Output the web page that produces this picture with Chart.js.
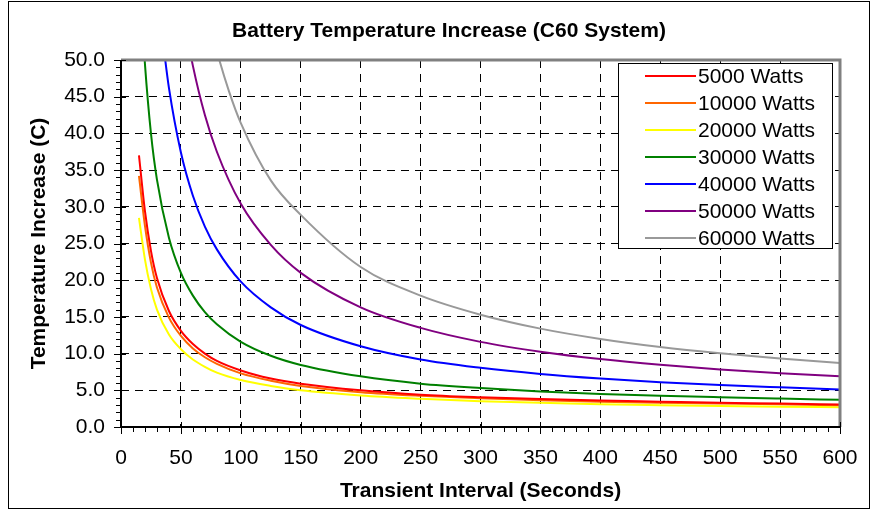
<!DOCTYPE html>
<html>
<head>
<meta charset="utf-8">
<script src="https://cdn.jsdelivr.net/npm/chart.js@4.4.0/dist/chart.umd.min.js"></script>
<style>
  body { margin: 0; background: #fff; }
  #wrap { position: relative; width: 880px; height: 510px; }
</style>
</head>
<body>
<div id="wrap"><canvas id="myChart" width="880" height="510"></canvas></div>
<script>
// transient interval (seconds) and temperature increase (C)
const t5000  = [15, 20, 25, 30, 40, 50, 60, 70, 80, 100, 125, 150, 200, 250, 300, 350, 400, 450, 500, 550, 600];
const v5000  = [37.0, 29.4, 24.0, 20.3, 15.8, 13.1, 11.3, 10.0, 9.0, 7.7, 6.6, 5.9, 5.0, 4.4, 4.05, 3.8, 3.6, 3.45, 3.3, 3.2, 3.05];
const t10000 = [15, 20, 25, 30, 40, 50, 60, 70, 80, 100, 125, 150, 200, 250, 300, 350, 400, 450, 500, 550, 600];
const v10000 = [34.2, 27.4, 22.4, 19.0, 14.9, 12.4, 10.7, 9.5, 8.6, 7.3, 6.3, 5.6, 4.75, 4.25, 3.9, 3.65, 3.45, 3.3, 3.2, 3.1, 2.95];
const t20000 = [15, 20, 25, 30, 40, 50, 60, 70, 80, 100, 125, 150, 200, 250, 300, 350, 400, 450, 500, 550, 600];
const v20000 = [28.5, 22.8, 18.8, 16.0, 12.6, 10.6, 9.2, 8.2, 7.4, 6.4, 5.6, 5.0, 4.3, 3.85, 3.5, 3.3, 3.1, 2.97, 2.86, 2.77, 2.7];
const t30000 = [19, 20, 25, 30, 40, 50, 60, 70, 80, 100, 125, 150, 200, 250, 300, 350, 400, 450, 500, 550, 600];
const v30000 = [52.0, 49.4, 40.0, 33.7, 25.8, 21.0, 17.9, 15.65, 14.0, 11.6, 9.7, 8.45, 6.9, 5.9, 5.3, 4.85, 4.5, 4.25, 4.05, 3.87, 3.7];
const t40000 = [35, 40, 50, 60, 70, 80, 100, 125, 150, 200, 250, 300, 350, 400, 450, 500, 550, 600];
const v40000 = [52.5, 46.2, 37.4, 31.5, 27.3, 24.2, 19.8, 16.3, 13.9, 11.0, 9.2, 8.07, 7.23, 6.6, 6.1, 5.72, 5.4, 5.1];
const t50000 = [55, 60, 70, 80, 100, 125, 150, 200, 250, 300, 350, 400, 450, 500, 550, 600];
const v50000 = [53.5, 49.2, 42.5, 37.5, 30.4, 24.8, 21.0, 16.3, 13.5, 11.6, 10.26, 9.25, 8.47, 7.84, 7.33, 6.9];
const t60000 = [78, 80, 90, 100, 125, 150, 200, 250, 300, 350, 400, 450, 500, 550, 600];
const v60000 = [52.5, 51.2, 45.8, 41.4, 33.6, 28.9, 21.8, 17.9, 15.3, 13.4, 12.0, 10.9, 10.04, 9.33, 8.73];

const labels = ['5000 Watts', '10000 Watts', '20000 Watts', '30000 Watts', '40000 Watts', '50000 Watts', '60000 Watts'];
const colors = ['#ff0000', '#ff6600', '#ffff00', '#008000', '#0000ff', '#800080', '#999999'];
const xs = [t5000, t10000, t20000, t30000, t40000, t50000, t60000];
const ys = [v5000, v10000, v20000, v30000, v40000, v50000, v60000];

const TITLE = 'Battery Temperature Increase (C60 System)';
const FONT = 'Liberation Sans, Arial, sans-serif';

function pairs(tx, vy) {
    return tx.map(function(t, i){ return {x: t, y: vy[i]}; });
}

const datasets = labels.map(function(l, i){
    return {
        label: l,
        data: pairs(xs[i], ys[i]),
        borderColor: colors[i],
        backgroundColor: colors[i],
        borderWidth: 2,
        pointRadius: 0,
        cubicInterpolationMode: 'monotone',
        fill: false
    };
});

// title, minor ticks, gray frame on top/right, legend box and outer border
const extras = {
    id: 'extras',
    afterDraw: function(chart){
        const ctx = chart.ctx;
        const a = chart.chartArea;
        const xS = chart.scales.x, yS = chart.scales.y;
        ctx.save();

        ctx.fillStyle = '#000';
        ctx.font = 'bold 21px ' + FONT;
        ctx.textAlign = 'center';
        ctx.textBaseline = 'middle';
        ctx.fillText(TITLE, 449, 31);

        ctx.strokeStyle = '#808080';
        ctx.lineWidth = 3;
        ctx.beginPath();
        ctx.moveTo(a.left, a.top);
        ctx.lineTo(a.right, a.top);
        ctx.lineTo(a.right, a.bottom);
        ctx.stroke();

        ctx.strokeStyle = '#000';
        ctx.lineWidth = 1;
        ctx.beginPath();
        for (let v = 0; v <= 600; v += 10) {
            const px = Math.round(xS.getPixelForValue(v)) + 0.5;
            if (v % 50 === 0) { ctx.moveTo(px, a.bottom - 5); ctx.lineTo(px, a.bottom + 7); }
            else { ctx.moveTo(px, a.bottom); ctx.lineTo(px, a.bottom + 5); }
        }
        for (let v = 0; v <= 50; v += 1) {
            const py = Math.round(yS.getPixelForValue(v)) + 0.5;
            if (v % 5 === 0) { ctx.moveTo(a.left + 5, py); ctx.lineTo(a.left - 7, py); }
            else { ctx.moveTo(a.left, py); ctx.lineTo(a.left - 5, py); }
        }
        ctx.stroke();

        ctx.lineWidth = 2;
        ctx.beginPath();
        ctx.moveTo(a.left, a.top);
        ctx.lineTo(a.left, a.bottom);
        ctx.lineTo(a.right, a.bottom);
        ctx.stroke();

        // legend
        const bx = 618, by = 63, bw = 214, bh = 185;
        ctx.fillStyle = '#fff';
        ctx.fillRect(bx, by, bw, bh);
        ctx.strokeStyle = '#000';
        ctx.lineWidth = 1;
        ctx.strokeRect(bx + 0.5, by + 0.5, bw, bh);
        ctx.font = '21px ' + FONT;
        ctx.textBaseline = 'middle';
        ctx.textAlign = 'left';
        chart.data.datasets.forEach(function(ds, i){
            const y = by + 13 + i * 27;
            ctx.strokeStyle = ds.borderColor;
            ctx.lineWidth = 2;
            ctx.beginPath();
            ctx.moveTo(bx + 27, y);
            ctx.lineTo(bx + 78, y);
            ctx.stroke();
            ctx.fillStyle = '#000';
            ctx.fillText(ds.label, bx + 80, y + 1);
        });

        ctx.strokeStyle = '#000';
        ctx.lineWidth = 1;
        ctx.strokeRect(8.5, 1.5, 861, 507);
        ctx.restore();
    }
};

const config = {
    type: 'line',
    data: { datasets: datasets },
    plugins: [extras],
    options: {
        responsive: false,
        animation: false,
        layout: { padding: { left: 0, right: 40, top: 60, bottom: 0 } },
        plugins: {
            legend: { display: false },
            tooltip: { enabled: false },
            title: { display: false }
        },
        scales: {
            x: {
                type: 'linear',
                min: 0, max: 600,
                afterFit: function(s){ s.height = 83; },
                ticks: { stepSize: 50, color: '#000', padding: 19, maxRotation: 0,
                         font: { family: FONT, size: 21 } },
                grid: { color: '#000', lineWidth: 1, drawTicks: false },
                border: { display: false, dash: [8, 6] },
                title: { display: true, text: 'Transient Interval (Seconds)', color: '#000',
                         font: { family: FONT, size: 21, weight: 'bold' }, padding: { bottom: 6 } }
            },
            y: {
                min: 0, max: 50,
                afterFit: function(s){ s.width = 121; },
                ticks: { stepSize: 5, color: '#000', padding: 16,
                         font: { family: FONT, size: 21 },
                         callback: function(v){ return v.toFixed(1); } },
                grid: { color: '#000', lineWidth: 1, drawTicks: false },
                border: { display: false, dash: [8, 6] },
                title: { display: true, text: 'Temperature Increase (C)', color: '#000',
                         font: { family: FONT, size: 21, weight: 'bold' }, padding: { top: 27 } }
            }
        }
    }
};

const myChart = new Chart(document.getElementById('myChart'), config);
</script>
</body>
</html>
